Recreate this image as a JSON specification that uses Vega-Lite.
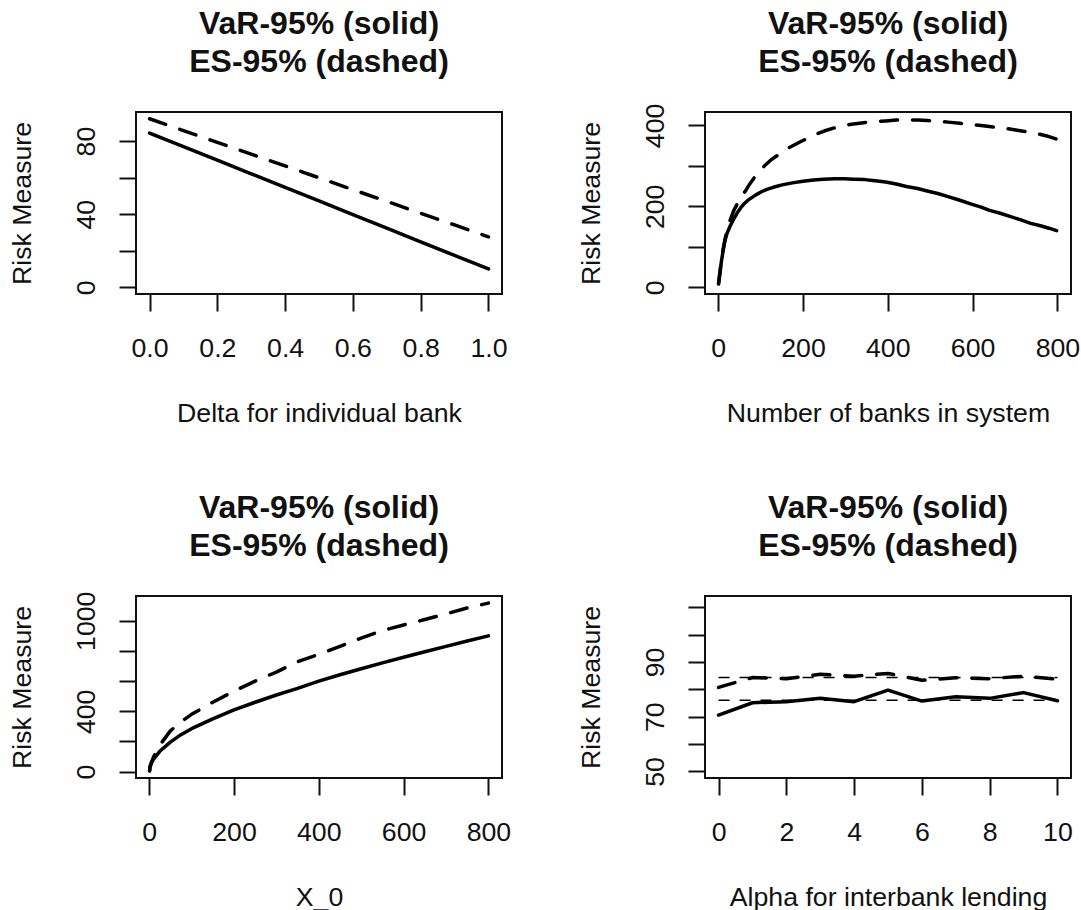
{
 "$schema": "https://vega.github.io/schema/vega-lite/v6.json",
 "background": "white",
 "padding": {"left": 8, "top": 6, "right": 2, "bottom": 2},
 "columns": 2,
 "spacing": {"row": 302, "column": 203},
 "bounds": "flush",
 "config": {
  "view": {"stroke": "#111", "strokeWidth": 2},
  "font": "Liberation Sans",
  "axis": {"grid": false, "domain": false, "ticks": true, "tickSize": 17, "tickColor": "#111", "tickWidth": 2, "labelFont": "Liberation Sans", "labelFontSize": 26.7, "labelColor": "#111", "titleFont": "Liberation Sans", "titleFontSize": 26.7, "titleFontWeight": "normal", "titleColor": "#111", "labelOverlap": false, "labelFlush": false},
  "axisX": {"labelAngle": 0, "labelBaseline": "alphabetic", "labelPadding": 45, "labelAlign": "center", "titleBaseline": "alphabetic", "titleAlign": "center", "titleY": 127, "titleX": 183},
  "axisY": {"labelAngle": -90, "labelAlign": "center", "labelBaseline": "alphabetic", "labelPadding": 25, "titleAngle": -90, "titleBaseline": "alphabetic", "titleAlign": "center", "titleX": -106, "titleY": 91},
  "title": {"font": "Liberation Sans", "fontSize": 32, "fontWeight": "bold", "color": "#111", "lineHeight": 38.5, "baseline": "bottom", "anchor": "middle", "frame": "group"}
 },
 "datasets": {
  "p1": [
   {"x": 0.0, "y": 84.4, "s": "VaR"}, {"x": 0.1, "y": 77.0, "s": "VaR"}, {"x": 0.2, "y": 69.5, "s": "VaR"}, {"x": 0.3, "y": 62.1, "s": "VaR"}, {"x": 0.4, "y": 54.6, "s": "VaR"}, {"x": 0.5, "y": 47.2, "s": "VaR"}, {"x": 0.6, "y": 39.8, "s": "VaR"}, {"x": 0.7, "y": 32.3, "s": "VaR"}, {"x": 0.8, "y": 24.9, "s": "VaR"}, {"x": 0.9, "y": 17.4, "s": "VaR"}, {"x": 1.0, "y": 10.0, "s": "VaR"},
   {"x": 0.0, "y": 92.2, "s": "ES"}, {"x": 0.1, "y": 85.7, "s": "ES"}, {"x": 0.2, "y": 79.3, "s": "ES"}, {"x": 0.3, "y": 72.8, "s": "ES"}, {"x": 0.4, "y": 66.4, "s": "ES"}, {"x": 0.5, "y": 59.9, "s": "ES"}, {"x": 0.6, "y": 53.4, "s": "ES"}, {"x": 0.7, "y": 47.0, "s": "ES"}, {"x": 0.8, "y": 40.5, "s": "ES"}, {"x": 0.9, "y": 34.1, "s": "ES"}, {"x": 1.0, "y": 27.6, "s": "ES"}
  ],
  "p2": [
   {"x": 1, "y": 8, "s": "VaR"}, {"x": 3, "y": 25, "s": "VaR"}, {"x": 5, "y": 42, "s": "VaR"}, {"x": 8, "y": 66, "s": "VaR"}, {"x": 12, "y": 92, "s": "VaR"}, {"x": 16, "y": 115, "s": "VaR"}, {"x": 20, "y": 130, "s": "VaR"}, {"x": 24, "y": 141, "s": "VaR"}, {"x": 30, "y": 155, "s": "VaR"}, {"x": 37, "y": 169, "s": "VaR"}, {"x": 45, "y": 184, "s": "VaR"}, {"x": 53, "y": 196, "s": "VaR"}, {"x": 60, "y": 205, "s": "VaR"}, {"x": 69, "y": 214, "s": "VaR"}, {"x": 80, "y": 222, "s": "VaR"}, {"x": 90, "y": 229, "s": "VaR"}, {"x": 102, "y": 236, "s": "VaR"}, {"x": 115, "y": 242, "s": "VaR"}, {"x": 130, "y": 247, "s": "VaR"}, {"x": 151, "y": 253, "s": "VaR"}, {"x": 175, "y": 258, "s": "VaR"}, {"x": 200, "y": 262, "s": "VaR"}, {"x": 225, "y": 265, "s": "VaR"}, {"x": 248, "y": 267, "s": "VaR"}, {"x": 275, "y": 268, "s": "VaR"}, {"x": 297, "y": 268, "s": "VaR"}, {"x": 320, "y": 267, "s": "VaR"}, {"x": 346, "y": 266, "s": "VaR"}, {"x": 370, "y": 263, "s": "VaR"}, {"x": 395, "y": 260, "s": "VaR"}, {"x": 420, "y": 255, "s": "VaR"}, {"x": 444, "y": 249, "s": "VaR"}, {"x": 470, "y": 244, "s": "VaR"}, {"x": 493, "y": 238, "s": "VaR"}, {"x": 520, "y": 231, "s": "VaR"}, {"x": 542, "y": 224, "s": "VaR"}, {"x": 570, "y": 215, "s": "VaR"}, {"x": 599, "y": 205, "s": "VaR"}, {"x": 620, "y": 198, "s": "VaR"}, {"x": 640, "y": 190, "s": "VaR"}, {"x": 665, "y": 183, "s": "VaR"}, {"x": 688, "y": 175, "s": "VaR"}, {"x": 712, "y": 167, "s": "VaR"}, {"x": 737, "y": 158, "s": "VaR"}, {"x": 760, "y": 152, "s": "VaR"}, {"x": 780, "y": 146, "s": "VaR"}, {"x": 798, "y": 140, "s": "VaR"},
   {"x": 1, "y": 10, "s": "ES"}, {"x": 4, "y": 35, "s": "ES"}, {"x": 8, "y": 70, "s": "ES"}, {"x": 12, "y": 95, "s": "ES"}, {"x": 16, "y": 118, "s": "ES"}, {"x": 20, "y": 135, "s": "ES"}, {"x": 28, "y": 165, "s": "ES"}, {"x": 37, "y": 190, "s": "ES"}, {"x": 49, "y": 214, "s": "ES"}, {"x": 57, "y": 227, "s": "ES"}, {"x": 65, "y": 239, "s": "ES"}, {"x": 75, "y": 256, "s": "ES"}, {"x": 86, "y": 272, "s": "ES"}, {"x": 98, "y": 287, "s": "ES"}, {"x": 110, "y": 301, "s": "ES"}, {"x": 125, "y": 315, "s": "ES"}, {"x": 143, "y": 328, "s": "ES"}, {"x": 167, "y": 345, "s": "ES"}, {"x": 195, "y": 360, "s": "ES"}, {"x": 224, "y": 375, "s": "ES"}, {"x": 250, "y": 386, "s": "ES"}, {"x": 281, "y": 396, "s": "ES"}, {"x": 310, "y": 402, "s": "ES"}, {"x": 338, "y": 406, "s": "ES"}, {"x": 365, "y": 409, "s": "ES"}, {"x": 395, "y": 411, "s": "ES"}, {"x": 420, "y": 413, "s": "ES"}, {"x": 444, "y": 414, "s": "ES"}, {"x": 470, "y": 413, "s": "ES"}, {"x": 493, "y": 412, "s": "ES"}, {"x": 520, "y": 410, "s": "ES"}, {"x": 542, "y": 408, "s": "ES"}, {"x": 570, "y": 405, "s": "ES"}, {"x": 599, "y": 402, "s": "ES"}, {"x": 625, "y": 399, "s": "ES"}, {"x": 656, "y": 395, "s": "ES"}, {"x": 680, "y": 392, "s": "ES"}, {"x": 705, "y": 388, "s": "ES"}, {"x": 730, "y": 384, "s": "ES"}, {"x": 754, "y": 379, "s": "ES"}, {"x": 778, "y": 373, "s": "ES"}, {"x": 798, "y": 366, "s": "ES"}
  ],
  "p3": [
   {"x": 1, "y": 5, "s": "VaR"}, {"x": 2, "y": 30, "s": "VaR"}, {"x": 5, "y": 55, "s": "VaR"}, {"x": 10, "y": 82, "s": "VaR"}, {"x": 25, "y": 135, "s": "VaR"}, {"x": 50, "y": 196, "s": "VaR"}, {"x": 75, "y": 245, "s": "VaR"}, {"x": 100, "y": 285, "s": "VaR"}, {"x": 150, "y": 350, "s": "VaR"}, {"x": 200, "y": 410, "s": "VaR"}, {"x": 250, "y": 460, "s": "VaR"}, {"x": 300, "y": 508, "s": "VaR"}, {"x": 350, "y": 552, "s": "VaR"}, {"x": 400, "y": 600, "s": "VaR"}, {"x": 450, "y": 642, "s": "VaR"}, {"x": 500, "y": 682, "s": "VaR"}, {"x": 550, "y": 721, "s": "VaR"}, {"x": 600, "y": 758, "s": "VaR"}, {"x": 650, "y": 795, "s": "VaR"}, {"x": 700, "y": 830, "s": "VaR"}, {"x": 750, "y": 866, "s": "VaR"}, {"x": 800, "y": 900, "s": "VaR"},
   {"x": 1, "y": 5, "s": "ES"}, {"x": 2, "y": 32, "s": "ES"}, {"x": 5, "y": 60, "s": "ES"}, {"x": 10, "y": 95, "s": "ES"}, {"x": 25, "y": 175, "s": "ES"}, {"x": 50, "y": 270, "s": "ES"}, {"x": 75, "y": 330, "s": "ES"}, {"x": 100, "y": 380, "s": "ES"}, {"x": 150, "y": 460, "s": "ES"}, {"x": 200, "y": 533, "s": "ES"}, {"x": 250, "y": 600, "s": "ES"}, {"x": 300, "y": 660, "s": "ES"}, {"x": 350, "y": 728, "s": "ES"}, {"x": 400, "y": 778, "s": "ES"}, {"x": 450, "y": 830, "s": "ES"}, {"x": 500, "y": 885, "s": "ES"}, {"x": 550, "y": 935, "s": "ES"}, {"x": 600, "y": 972, "s": "ES"}, {"x": 650, "y": 1008, "s": "ES"}, {"x": 700, "y": 1045, "s": "ES"}, {"x": 750, "y": 1085, "s": "ES"}, {"x": 800, "y": 1117, "s": "ES"}
  ],
  "p4": [
   {"x": 0, "y": 70.6, "s": "VaR"}, {"x": 1, "y": 75.1, "s": "VaR"}, {"x": 2, "y": 75.5, "s": "VaR"}, {"x": 3, "y": 76.7, "s": "VaR"}, {"x": 4, "y": 75.5, "s": "VaR"}, {"x": 5, "y": 79.7, "s": "VaR"}, {"x": 6, "y": 75.7, "s": "VaR"}, {"x": 7, "y": 77.3, "s": "VaR"}, {"x": 8, "y": 76.7, "s": "VaR"}, {"x": 9, "y": 78.8, "s": "VaR"}, {"x": 10, "y": 75.8, "s": "VaR"},
   {"x": 0, "y": 80.7, "s": "ES"}, {"x": 1, "y": 84.3, "s": "ES"}, {"x": 2, "y": 83.9, "s": "ES"}, {"x": 3, "y": 85.5, "s": "ES"}, {"x": 4, "y": 84.8, "s": "ES"}, {"x": 5, "y": 85.8, "s": "ES"}, {"x": 6, "y": 83.3, "s": "ES"}, {"x": 7, "y": 84.2, "s": "ES"}, {"x": 8, "y": 83.9, "s": "ES"}, {"x": 9, "y": 84.8, "s": "ES"}, {"x": 10, "y": 83.7, "s": "ES"},
   {"x": 0, "y": 76.0, "s": "VaRmean"}, {"x": 10, "y": 76.0, "s": "VaRmean"},
   {"x": 0, "y": 84.3, "s": "ESmean"}, {"x": 10, "y": 84.3, "s": "ESmean"}
  ]
 },
 "concat": [
  {
   "title": {"text": ["VaR-95% (solid)\u00a0\u00a0", "ES-95% (dashed)"], "offset": 33},
   "width": 366, "height": 182,
   "data": {"name": "p1"},
   "encoding": {
    "x": {"field": "x", "type": "quantitative", "title": "Delta for individual bank", "scale": {"domain": [-0.04, 1.04], "nice": false, "zero": false}, "axis": {"values": [0, 0.2, 0.4, 0.6, 0.8, 1], "format": ".1f"}},
    "y": {"field": "y", "type": "quantitative", "title": "Risk Measure", "scale": {"domain": [-3.69, 95.9], "nice": false, "zero": false}, "axis": {"values": [0, 20, 40, 60, 80], "format": "d", "labelExpr": "datum.value % 40 == 0 ? datum.label : ''"}}
   },
   "layer": [
    {"transform": [{"filter": "datum.s == 'VaR'"}], "mark": {"type": "line", "color": "#000", "strokeWidth": 3.5, "strokeCap": "round", "strokeJoin": "round"}},
    {"transform": [{"filter": "datum.s == 'ES'"}], "mark": {"type": "line", "color": "#000", "strokeWidth": 3.5, "strokeCap": "round", "strokeJoin": "round", "strokeDash": [17, 15]}}
   ]
  },
  {
   "title": {"text": ["VaR-95% (solid)\u00a0\u00a0", "ES-95% (dashed)"], "offset": 24},
   "width": 366, "height": 182,
   "data": {"name": "p2"},
   "encoding": {
    "x": {"field": "x", "type": "quantitative", "title": "Number of banks in system", "scale": {"domain": [-31, 832], "nice": false, "zero": false}, "axis": {"values": [0, 200, 400, 600, 800], "format": "d"}},
    "y": {"field": "y", "type": "quantitative", "title": "Risk Measure", "scale": {"domain": [-16.5, 433], "nice": false, "zero": false}, "axis": {"values": [0, 100, 200, 300, 400], "format": "d", "labelExpr": "datum.value % 200 == 0 ? datum.label : ''"}}
   },
   "layer": [
    {"transform": [{"filter": "datum.s == 'VaR'"}], "mark": {"type": "line", "color": "#000", "strokeWidth": 3.5, "strokeCap": "round", "strokeJoin": "round"}},
    {"transform": [{"filter": "datum.s == 'ES'"}], "mark": {"type": "line", "color": "#000", "strokeWidth": 3.5, "strokeCap": "round", "strokeJoin": "round", "strokeDash": [17, 15]}}
   ]
  },
  {
   "title": {"text": ["VaR-95% (solid)\u00a0\u00a0", "ES-95% (dashed)"], "offset": 28},
   "width": 366, "height": 182,
   "data": {"name": "p3"},
   "encoding": {
    "x": {"field": "x", "type": "quantitative", "title": "X_0", "scale": {"domain": [-31, 832], "nice": false, "zero": false}, "axis": {"values": [0, 200, 400, 600, 800], "format": "d"}},
    "y": {"field": "y", "type": "quantitative", "title": "Risk Measure", "scale": {"domain": [-42, 1164], "nice": false, "zero": false}, "axis": {"values": [0, 200, 400, 600, 800, 1000], "format": "d", "labelExpr": "datum.value == 0 || datum.value == 400 || datum.value == 1000 ? datum.label : ''"}}
   },
   "layer": [
    {"transform": [{"filter": "datum.s == 'VaR'"}], "mark": {"type": "line", "color": "#000", "strokeWidth": 3.5, "strokeCap": "round", "strokeJoin": "round"}},
    {"transform": [{"filter": "datum.s == 'ES'"}], "mark": {"type": "line", "color": "#000", "strokeWidth": 3.5, "strokeCap": "round", "strokeJoin": "round", "strokeDash": [17, 15]}}
   ]
  },
  {
   "title": {"text": ["VaR-95% (solid)\u00a0\u00a0", "ES-95% (dashed)"], "offset": 33},
   "width": 366, "height": 182,
   "data": {"name": "p4"},
   "encoding": {
    "x": {"field": "x", "type": "quantitative", "title": "Alpha for interbank lending", "scale": {"domain": [-0.4, 10.4], "nice": false, "zero": false}, "axis": {"values": [0, 2, 4, 6, 8, 10], "format": "d"}},
    "y": {"field": "y", "type": "quantitative", "title": "Risk Measure", "scale": {"domain": [47.6, 114.1], "nice": false, "zero": false}, "axis": {"values": [50, 60, 70, 80, 90, 100, 110], "format": "d", "labelExpr": "datum.value == 50 || datum.value == 70 || datum.value == 90 ? datum.label : ''"}}
   },
   "layer": [
    {"transform": [{"filter": "datum.s == 'VaRmean' || datum.s == 'ESmean'"}], "mark": {"type": "line", "color": "#000", "strokeWidth": 1.6, "strokeDash": [11, 10]}, "encoding": {"detail": {"field": "s"}}},
    {"transform": [{"filter": "datum.s == 'VaR'"}], "mark": {"type": "line", "color": "#000", "strokeWidth": 3.5, "strokeCap": "round", "strokeJoin": "round"}},
    {"transform": [{"filter": "datum.s == 'ES'"}], "mark": {"type": "line", "color": "#000", "strokeWidth": 3.5, "strokeCap": "round", "strokeJoin": "round", "strokeDash": [17, 15]}}
   ]
  }
 ]
}
